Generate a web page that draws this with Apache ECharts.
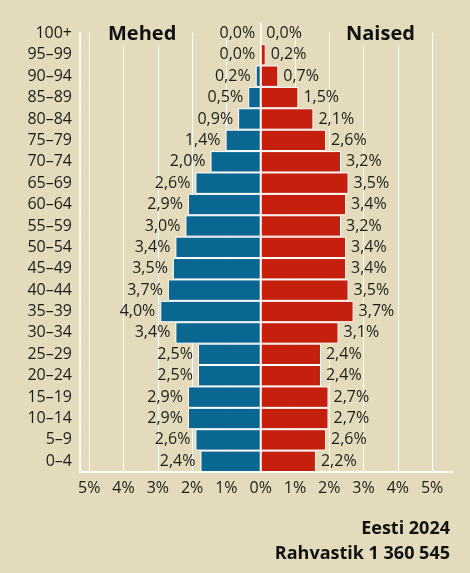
<!DOCTYPE html>
<html>
<head>
<meta charset="utf-8">
<script src="https://cdn.jsdelivr.net/npm/echarts@6/dist/echarts.min.js"></script>
<style>
  html, body { margin: 0; padding: 0; background: #e3dbbc; }
  #chart { width: 470px; height: 573px; }
</style>
</head>
<body>
<div id="chart"></div>
<script>
// vanusrühmad alt üles
const ageGroups = ['0–4', '5–9', '10–14', '15–19', '20–24', '25–29', '30–34', '35–39', '40–44', '45–49',
  '50–54', '55–59', '60–64', '65–69', '70–74', '75–79', '80–84', '85–89', '90–94', '95–99', '100+']
const men = [2.4, 2.6, 2.9, 2.9, 2.5, 2.5, 3.4, 4.0, 3.7, 3.5, 3.4, 3.0, 2.9, 2.6, 2.0, 1.4, 0.9, 0.5, 0.2, 0.0, 0.0]
const women = [2.2, 2.6, 2.7, 2.7, 2.4, 2.4, 3.1, 3.7, 3.5, 3.4, 3.4, 3.2, 3.4, 3.5, 3.2, 2.6, 2.1, 1.5, 0.7, 0.2, 0.0]
const tickValues = [-5, -4, -3, -2, -1, 0, 1, 2, 3, 4, 5]

const bg = '#e3dbbc'
const textColor = '#1d1d1b'
const fontFamily = '"Open Sans", "Noto Sans", sans-serif'
const fmt = v => Math.abs(v).toFixed(1).replace('.', ',') + '%'

const chart = echarts.init(document.getElementById('chart'))
window.onresize = chart.resize

chart.setOption({
  backgroundColor: bg,
  textStyle: { fontFamily: fontFamily },
  grid: [
    // ruudustik ja telg
    { left: 80, right: 18, top: 33, bottom: 101 },
    // tulbad
    { left: 80, right: 18, top: 22.7, bottom: 101 }
  ],
  xAxis: [
    {
      gridIndex: 0,
      type: 'value',
      min: -5.27,
      max: 5.58,
      axisLine: { show: true, onZero: false, lineStyle: { color: '#fffdf5', width: 2 } },
      axisTick: { show: false, customValues: tickValues },
      splitLine: { show: true, lineStyle: { color: '#fffdf5', width: 1 } },
      axisLabel: {
        customValues: tickValues,
        formatter: v => Math.abs(Math.round(v)) + '%',
        color: textColor,
        fontSize: 16,
        margin: 8
      }
    },
    {
      gridIndex: 1,
      type: 'value',
      min: -7.2,
      max: 7.62,
      show: false
    }
  ],
  yAxis: [
    {
      gridIndex: 0,
      type: 'value',
      min: 0,
      max: 1,
      axisLine: { show: true, onZero: false, lineStyle: { color: '#fffdf5', width: 2 } },
      axisTick: { show: false },
      axisLabel: { show: false },
      splitLine: { show: false }
    },
    {
      gridIndex: 1,
      type: 'category',
      data: ageGroups,
      axisLine: { show: false },
      axisTick: { show: false },
      axisLabel: { color: textColor, fontSize: 16, margin: 8 }
    }
  ],
  series: [
    {
      name: 'Mehed',
      type: 'bar',
      xAxisIndex: 1,
      yAxisIndex: 1,
      stack: 'kokku',
      barCategoryGap: 0,
      data: men.map(v => -v),
      itemStyle: { color: '#0a6792', borderColor: '#ffffff', borderWidth: 1 },
      label: {
        show: true,
        position: 'left',
        distance: 5,
        color: textColor,
        fontSize: 16,
        formatter: p => fmt(p.value)
      }
    },
    {
      name: 'Naised',
      type: 'bar',
      xAxisIndex: 1,
      yAxisIndex: 1,
      stack: 'kokku',
      barCategoryGap: 0,
      data: women,
      itemStyle: { color: '#c5200e', borderColor: '#ffffff', borderWidth: 1 },
      label: {
        show: true,
        position: 'right',
        distance: 5,
        color: textColor,
        fontSize: 16,
        formatter: p => fmt(p.value)
      }
    }
  ],
  graphic: [
    {
      type: 'text', left: 104, top: 22, z: 100,
      style: { text: 'Mehed', font: 'bold 20px ' + fontFamily, fill: '#111', backgroundColor: bg, padding: [2, 4, 1, 4] }
    },
    {
      type: 'text', left: 342, top: 22, z: 100,
      style: { text: 'Naised', font: 'bold 20px ' + fontFamily, fill: '#111', backgroundColor: bg, padding: [2, 4, 1, 4] }
    },
    { type: 'text', right: 20, top: 520, style: { text: 'Eesti 2024', font: 'bold 18px ' + fontFamily, fill: '#111' } },
    { type: 'text', right: 20, top: 545, style: { text: 'Rahvastik 1 360 545', font: 'bold 18px ' + fontFamily, fill: '#111' } }
  ]
})
</script>
</body>
</html>
